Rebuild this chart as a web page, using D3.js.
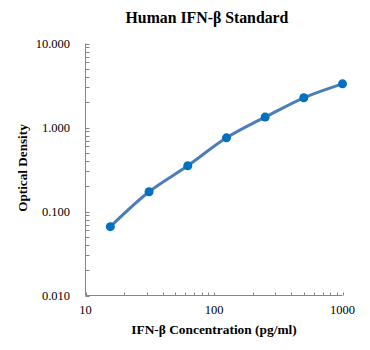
<!DOCTYPE html>
<html><head><meta charset="utf-8">
<script src="https://cdn.jsdelivr.net/npm/d3@7/dist/d3.min.js"></script>
<style>body{margin:0;background:#fff}svg{display:block}text{font-family:"Liberation Serif","Times New Roman",serif}</style>
</head><body>
<script>
const concentrations = [15.6, 31.25, 62.5, 125, 250, 500, 1000];
const odValues = [0.066, 0.172, 0.350, 0.753, 1.33, 2.26, 3.31];
const xTickValues = [10, 100, 1000];
const yTickValues = [0.01, 0.1, 1, 10];

const W = 370, H = 350;
const svg = d3.select("body").append("svg").attr("width", W).attr("height", H);
const x = d3.scaleLog().domain([10, 1000]).range([85.5, 342.5]);
const y = d3.scaleLog().domain([0.01, 10]).range([295.5, 43.5]);
const axisColor = "#868686";

// minor ticks
const xMinor = [];
for (let d = 10; d < 1000; d *= 10) for (let k = 2; k <= 9; k++) xMinor.push(d * k);
const yMinor = [];
for (let d = 0.01; d < 9; d *= 10) for (let k = 2; k <= 9; k++) yMinor.push(+(d * k).toPrecision(3));

const gx = svg.append("g");
gx.append("line").attr("x1", x(10)).attr("x2", x(1000)).attr("y1", y(0.01)).attr("y2", y(0.01)).attr("stroke", axisColor);
gx.selectAll("line.mn").data(xMinor.concat(xTickValues)).join("line").attr("class","mn")
  .attr("x1", d => Math.round(x(d)) + 0.5).attr("x2", d => Math.round(x(d)) + 0.5)
  .attr("y1", y(0.01)).attr("y2", y(0.01) - 3).attr("stroke", axisColor);
gx.selectAll("text").data(xTickValues).join("text")
  .attr("x", d => x(d)).attr("y", 314).attr("text-anchor", "middle")
  .attr("font-size", 12.5).attr("fill", "#000").text(d => d);

const gy = svg.append("g");
gy.append("line").attr("x1", x(10)).attr("x2", x(10)).attr("y1", y(0.01)).attr("y2", y(10)).attr("stroke", axisColor);
gy.selectAll("line.mn").data(yMinor.concat(yTickValues)).join("line").attr("class","mn")
  .attr("x1", x(10)).attr("x2", x(10) + 4)
  .attr("y1", d => Math.round(y(d)) + 0.5).attr("y2", d => Math.round(y(d)) + 0.5).attr("stroke", axisColor);
gy.selectAll("text").data(yTickValues).join("text")
  .attr("x", 70).attr("y", d => y(d) + 4).attr("text-anchor", "end")
  .attr("font-size", 12.5).attr("fill", "#000").text(d => d3.format(".3f")(d));

// curve
const pts = concentrations.map((c, i) => [x(c), y(odValues[i])]);
svg.append("path").attr("d", d3.line().curve(d3.curveCatmullRom.alpha(0.5))(pts))
  .attr("fill", "none").attr("stroke", "#4a7ebb").attr("stroke-width", 3);
svg.selectAll("circle").data(pts).join("circle")
  .attr("cx", d => d[0]).attr("cy", d => d[1]).attr("r", 4.5).attr("fill", "#0070c0");

// titles
svg.append("text").attr("x", 207).attr("y", 23).attr("text-anchor", "middle")
  .attr("font-size", 15.8).attr("font-weight", "bold").text("Human IFN-β Standard");
svg.append("text").attr("x", 214).attr("y", 334).attr("text-anchor", "middle")
  .attr("font-size", 13.4).attr("font-weight", "bold").text("IFN-β Concentration (pg/ml)");
svg.append("text").attr("transform", "translate(27,168) rotate(-90)").attr("text-anchor", "middle")
  .attr("font-size", 13.2).attr("font-weight", "bold").text("Optical Density");
</script>
</body></html>
